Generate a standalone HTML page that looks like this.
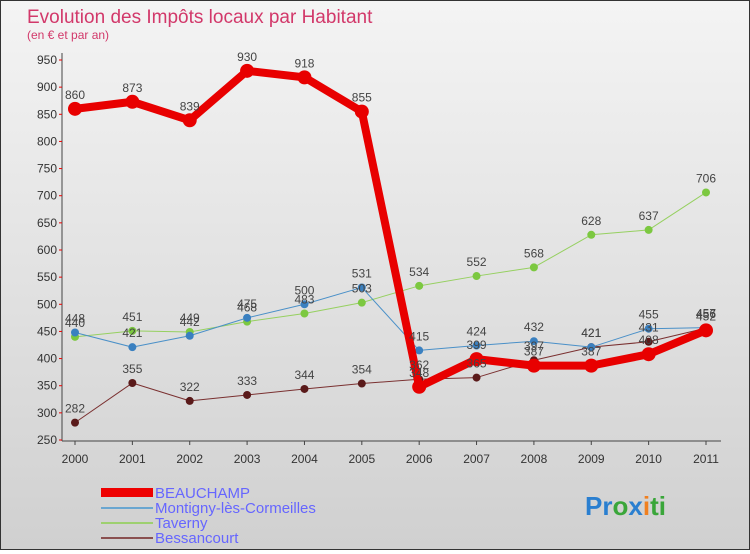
<!DOCTYPE html>
<html><head><meta charset="utf-8"><style>
body{margin:0;width:750px;height:550px;overflow:hidden;font-family:"Liberation Sans",sans-serif}
#wrap{position:relative;width:748px;height:548px;border:1px solid #333;background:linear-gradient(#f4f4f4,#d0d0d0)}
</style></head><body>
<div id="wrap">
<svg id="chart" width="748" height="548" font-family="Liberation Sans, sans-serif">
<text x="26" y="22" font-size="19" fill="#d2386a">Evolution des Impôts locaux par Habitant</text>
<text x="26" y="38" font-size="12" fill="#d2386a">(en € et par an)</text>
<g id="axes"></g><g id="series"></g><g id="labels"></g>
<g>
<rect x="100" y="487" width="52" height="9" fill="#e00"/>
<text x="154" y="497" font-size="15" fill="#66f">BEAUCHAMP</text>
<line x1="100" x2="152" y1="507" y2="507" stroke="#6aa6d0" stroke-width="2"/>
<text x="154" y="512" font-size="15" fill="#66f">Montigny-lès-Cormeilles</text>
<line x1="100" x2="152" y1="522" y2="522" stroke="#9ed070" stroke-width="2"/>
<text x="154" y="527" font-size="15" fill="#66f">Taverny</text>
<line x1="100" x2="152" y1="537" y2="537" stroke="#8a5050" stroke-width="2"/>
<text x="154" y="542" font-size="15" fill="#66f">Bessancourt</text>
</g>
<text x="584" y="514" font-size="26" font-weight="bold"><tspan fill="#2a7fd0">Pr</tspan><tspan fill="#3aa63a">o</tspan><tspan fill="#2a7fd0">x</tspan><tspan fill="#f08020">i</tspan><tspan fill="#3aa63a">ti</tspan></text>
</svg></div>
<script>
const years=[2000,2001,2002,2003,2004,2005,2006,2007,2008,2009,2010,2011];
const beauchamp=[860,873,839,930,918,855,348,399,387,387,408,452];
const montigny=[448,421,442,475,500,531,415,424,432,421,455,457];
const taverny=[440,451,449,468,483,503,534,552,568,628,637,706];
const bessancourt=[282,355,322,333,344,354,362,365,397,421,431,456];
const yTicks=[250,300,350,400,450,500,550,600,650,700,750,800,850,900,950];
const NS="http://www.w3.org/2000/svg";
const xs=i=>74+i*(705-74)/11;
const ys=v=>439-(v-250)*(380/700);
function mk(t,a,p){const e=document.createElementNS(NS,t);for(const k in a)e.setAttribute(k,a[k]);p.appendChild(e);return e;}
const ax=document.getElementById('axes');
const yl=mk('line',{x1:61,x2:61,y1:52,y2:440,stroke:'#444'},ax);


const xl=mk('line',{x1:61,x2:720,y1:440,y2:440,stroke:'#444'},ax);


yTicks.forEach(v=>{const t=mk('text',{x:56,y:ys(v)+4,'font-size':12,fill:'#333','text-anchor':'end'},ax);t.textContent=v;


mk('line',{x1:58,x2:61,y1:ys(v),y2:ys(v),stroke:'#e00'},ax);});
years.forEach((y,i)=>{const t=mk('text',{x:xs(i),y:462,'font-size':12,fill:'#333','text-anchor':'middle'},ax);t.textContent=y;


mk('line',{x1:xs(i),x2:xs(i),y1:440,y2:444,stroke:'#444'},ax);});
const S=document.getElementById('series'),L=document.getElementById('labels');
function draw(data,name,color,w,r,dot){
const pl=mk('polyline',{points:data.map((v,i)=>xs(i)+','+ys(v)).join(' '),fill:'none',stroke:color,'stroke-width':w,'stroke-linejoin':'round'},S);


data.forEach((v,i)=>{const c=mk('circle',{cx:xs(i),cy:ys(v),r:r,fill:dot},S);


const t=mk('text',{x:xs(i),y:ys(v)-10,'font-size':12,fill:'#444','text-anchor':'middle'},L);t.textContent=v;

});}
draw(bessancourt,'bessancourt','#7a3030',1,4,'#5a1a1a');
draw(taverny,'taverny','#96d060',1,4,'#7cc840');
draw(montigny,'montigny','#4a90c8',1,4,'#3a80c0');
draw(beauchamp,'beauchamp','#e80000',8,7,'#e80000');
</script></body></html>
